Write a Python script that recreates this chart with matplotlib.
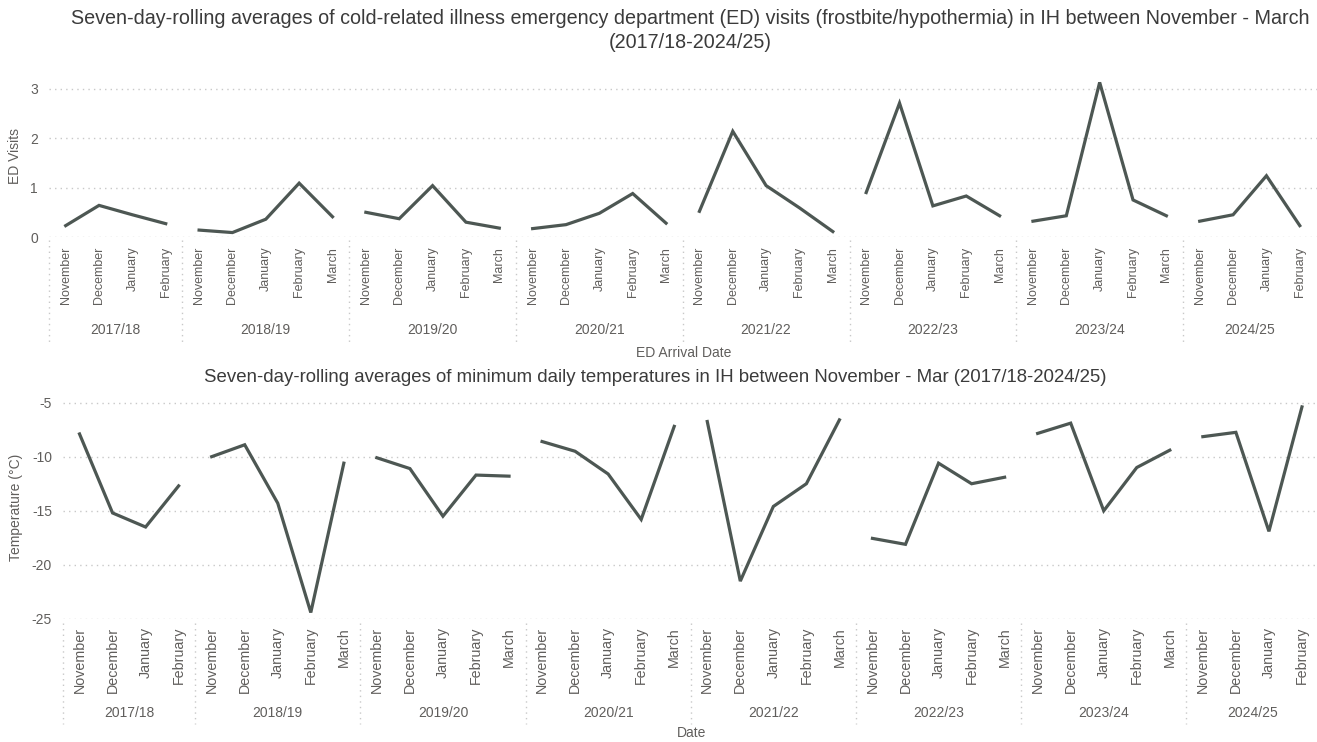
import numpy as np
import matplotlib
matplotlib.use("Agg")
import matplotlib.pyplot as plt

plt.rcParams['font.family'] = ['Liberation Sans', 'DejaVu Sans']

# Winter seasons and the months reported in each
seasons = ['2017/18', '2018/19', '2019/20', '2020/21', '2021/22', '2022/23', '2023/24', '2024/25']
season_months = [
    ['November', 'December', 'January', 'February'],
    ['November', 'December', 'January', 'February', 'March'],
    ['November', 'December', 'January', 'February', 'March'],
    ['November', 'December', 'January', 'February', 'March'],
    ['November', 'December', 'January', 'February', 'March'],
    ['November', 'December', 'January', 'February', 'March'],
    ['November', 'December', 'January', 'February', 'March'],
    ['November', 'December', 'January', 'February'],
]

# Seven-day rolling average of cold-related ED visits, per season
ed_visits = [
    [0.23, 0.64, 0.45, 0.27],
    [0.14, 0.09, 0.36, 1.09, 0.41],
    [0.50, 0.37, 1.04, 0.30, 0.18],
    [0.17, 0.25, 0.48, 0.88, 0.28],
    [0.52, 2.14, 1.04, 0.59, 0.11],
    [0.90, 2.71, 0.63, 0.83, 0.43],
    [0.32, 0.43, 3.13, 0.75, 0.43],
    [0.32, 0.45, 1.24, 0.23],
]

# Seven-day rolling average of minimum daily temperature (°C), per season
min_temp = [
    [-7.9, -15.2, -16.5, -12.7],
    [-10.0, -8.9, -14.3, -24.4, -10.6],
    [-10.1, -11.1, -15.5, -11.7, -11.8],
    [-8.6, -9.5, -11.6, -15.8, -7.2],
    [-6.75, -21.5, -14.6, -12.5, -6.6],
    [-17.55, -18.1, -10.6, -12.5, -11.9],
    [-7.85, -6.9, -15.0, -11.0, -9.4],
    [-8.15, -7.75, -16.9, -5.4],
]

LINE = '#4d5753'
TEXT = '#605e5c'
GRID = '#c8c8c8'


def draw_panel(ax, values, yticks, ylim, ylabel, xlabel, month_size, label_gap,
               season_y, sep_bottom, xlabel_y):
    start = 0
    edges = [-0.5]
    for months, vals in zip(season_months, values):
        x = np.arange(start, start + len(months))
        ax.plot(x, vals, color=LINE, lw=2.3, solid_joinstyle='miter')
        start += len(months)
        edges.append(start - 0.5)

    n = start
    ax.set_xlim(-0.5, -0.5 + n * 1.002)
    ax.set_ylim(*ylim)
    ax.set_yticks(yticks)
    ax.set_yticklabels([f'{t:g}' for t in yticks])
    ax.tick_params(axis='y', length=0, labelsize=10, labelcolor=TEXT, pad=8)
    ax.set_xticks([])
    for t in yticks:
        ax.axhline(t, color=GRID, lw=1, ls=(0, (1, 3)), zorder=0)
    for s in ax.spines.values():
        s.set_visible(False)
    ax.set_ylabel(ylabel, fontsize=10, color=TEXT, labelpad=6)

    # hierarchical x axis: months (rotated) then season names
    trans = ax.get_xaxis_transform()
    i = 0
    for months in season_months:
        for m in months:
            ax.text(i, -label_gap, m, rotation=90, ha='center', va='top',
                    fontsize=month_size, color=TEXT, transform=trans, clip_on=False)
            i += 1
    for k, name in enumerate(seasons):
        mid = (edges[k] + edges[k + 1]) / 2
        ax.text(mid, season_y, name, ha='center', va='center',
                fontsize=10, color=TEXT, transform=trans, clip_on=False)
    for e in edges[:-1]:
        ax.plot([e, e], [-0.02, sep_bottom], color=GRID, lw=1, ls=(0, (1, 3)),
                transform=trans, clip_on=False)
    ax.text(0.5, xlabel_y, xlabel, ha='center', va='center', fontsize=10,
            color=TEXT, transform=ax.transAxes, clip_on=False)


fig = plt.figure(figsize=(13.17, 7.42), dpi=100)
W, H = 1317.0, 742.0

# top panel: ED visits (0 at y=237, 3.3 at y=74)
ax1 = fig.add_axes([49 / W, 1 - 237 / H, 1270 / W, 163 / H])
draw_panel(ax1, ed_visits, [0, 1, 2, 3], (0, 3.3), 'ED Visits', 'ED Arrival Date',
           9, 0.06, -0.57, -0.66, -0.71)

# bottom panel: temperature (-25 at y=619, -4.3 at y=395)
ax2 = fig.add_axes([63 / W, 1 - 619 / H, 1258 / W, 224 / H])
draw_panel(ax2, min_temp, [-25, -20, -15, -10, -5], (-25, -4.3), 'Temperature (°C)', 'Date',
           10.3, 0.035, -0.42, -0.47, -0.51)

fig.text(690 / W, 1 - 18 / H,
         'Seven-day-rolling averages of cold-related illness emergency department (ED) visits '
         '(frostbite/hypothermia) in IH between November - March',
         ha='center', va='center', fontsize=14.2, color='#3b3b3b')
fig.text(690 / W, 1 - 42 / H, '(2017/18-2024/25)',
         ha='center', va='center', fontsize=14.2, color='#3b3b3b')
fig.text(655 / W, 1 - 378 / H,
         'Seven-day-rolling averages of minimum daily temperatures in IH between November - Mar '
         '(2017/18-2024/25)',
         ha='center', va='center', fontsize=13.4, color='#3b3b3b')

fig.savefig('out.png', dpi=100, facecolor='white')
